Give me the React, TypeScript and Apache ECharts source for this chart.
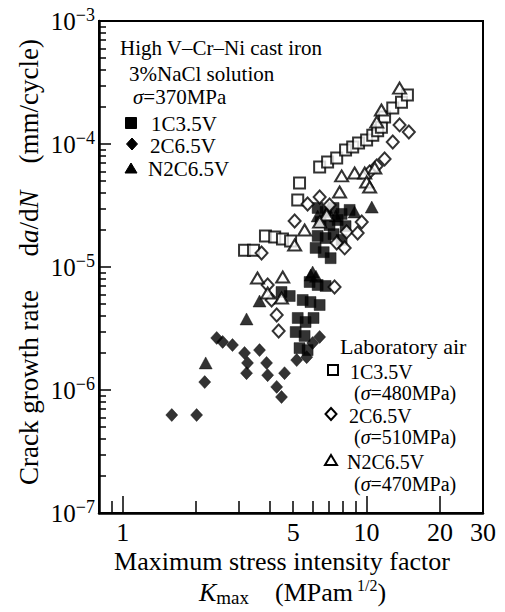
import React, { useEffect, useRef } from "react";
import * as echarts from "echarts";

const FONT = "Liberation Serif, Times New Roman, serif";

// ---- axis ticks / labels ----
const xTickMajor = [1, 10, 20];
const xTickMinor = [0.9, 2, 3, 4, 5, 6, 7, 8, 9];
const xLabels = [1, 5, 10, 20, 29.99];
const yDecades = [1e-7, 1e-6, 1e-5, 1e-4, 1e-3];
const yMinorMultipliers = [2, 3, 4, 5, 6, 7, 8, 9];

// ---- data: [Kmax (MPa m^1/2), da/dN (mm/cycle)] ----
// 3% NaCl solution, sigma = 370 MPa (filled symbols)
const nacl1C35V: [number, number][] = [
  [6.3, 3.02e-5], [6.79, 2.8e-5], [7.32, 3.02e-5], [7.9, 2.7e-5], [8.52, 2.91e-5],
  [6.48, 2.32e-5], [7.05, 2.19e-5], [7.61, 2.41e-5], [8.2, 2.15e-5],
  [6.3, 1.79e-5], [6.79, 1.72e-5], [7.32, 1.85e-5], [7.9, 1.66e-5],
  [6.18, 1.43e-5], [6.67, 1.32e-5], [7.12, 1.18e-5],
  [5.84, 7.55e-6], [6.3, 7.14e-6], [6.79, 7.01e-6],
  [5.47, 5.39e-6], [5.89, 5.19e-6], [6.42, 4.91e-6],
  [5.22, 3.85e-6], [5.62, 3.57e-6], [6.06, 3.85e-6],
  [5.12, 2.96e-6], [5.57, 2.75e-6], [5.31, 2.19e-6], [5.73, 2.11e-6],
  [4.48, 6.26e-6], [4.84, 5.81e-6],
];
const nacl2C65V: [number, number][] = [
  [1.59, 6.26e-7], [2.01, 6.26e-7], [2.17, 1.16e-6], [2.43, 2.65e-6], [2.57, 2.46e-6],
  [2.82, 2.32e-6], [3.16, 2.0e-6], [3.25, 1.66e-6], [3.22, 1.37e-6], [3.64, 2.11e-6],
  [3.89, 1.66e-6], [3.93, 1.32e-6], [4.28, 1.06e-6], [4.48, 8.77e-7], [4.61, 1.37e-6],
  [5.17, 1.75e-6], [5.68, 1.85e-6], [6.01, 2.41e-6], [6.42, 2.7e-6],
];
const naclN2C65V: [number, number][] = [
  [2.19, 1.66e-6], [3.22, 3.78e-6], [3.64, 5.29e-6], [6.01, 9.1e-6], [6.2, 8.4e-6],
  [5.9, 8.6e-6], [6.3, 2.6e-5], [6.92, 2.91e-5], [7.47, 2.6e-5], [8.93, 2.8e-5], [10.5, 3.07e-5],
];
// Laboratory air (open symbols)
const air1C35V: [number, number][] = [
  [3.16, 1.37e-5], [3.44, 1.37e-5], [3.85, 1.79e-5], [4.2, 1.75e-5], [4.52, 1.69e-5],
  [4.88, 1.63e-5], [5.22, 3.51e-5], [5.31, 4.82e-5], [6.42, 6.5e-5], [6.92, 7.14e-5],
  [7.54, 7.69e-5], [8.2, 8.94e-5], [8.77, 9.46e-5], [9.27, 1.02e-4], [10.0, 1.08e-4],
  [10.6, 1.18e-4], [11.1, 1.28e-4], [11.5, 1.37e-4], [11.85, 1.66e-4], [12.8, 1.96e-4],
  [13.9, 2.19e-4], [14.7, 2.5e-4],
];
const air2C65V: [number, number][] = [
  [3.71, 1.3e-5], [3.93, 7.14e-6], [4.08, 5.39e-6], [4.28, 4.07e-6], [4.36, 3.02e-6],
  [5.07, 2.37e-5], [5.73, 3.25e-5], [6.42, 3.71e-5], [7.05, 3.19e-5], [7.39, 6.88e-6],
  [7.54, 1.57e-5], [8.13, 1.43e-5], [8.28, 1.93e-5], [9.19, 1.89e-5], [9.55, 2.32e-5],
  [10.29, 5.92e-5], [11.0, 6.62e-5], [11.85, 7.55e-5], [12.8, 1.04e-4], [13.65, 1.43e-4],
  [14.9, 1.25e-4],
];
const airN2C65V: [number, number][] = [
  [3.57, 8.14e-6], [3.93, 6.15e-6], [4.53, 8.29e-6], [4.48, 5.6e-6], [5.07, 1.51e-5],
  [5.57, 2.0e-5], [6.86, 2.65e-5], [6.42, 2.32e-5], [7.75, 4.07e-5], [7.9, 5.5e-5],
  [8.93, 5.81e-5], [9.82, 5.81e-5], [10.0, 4.91e-5], [10.29, 4.47e-5], [10.8, 6.38e-5],
  [11.0, 1.51e-4], [11.5, 1.89e-4], [13.65, 2.85e-4],
];

const yMinor: number[] = [];
yDecades.slice(0, 4).forEach((d) => yMinorMultipliers.forEach((m) => yMinor.push(m * d)));

const txt = (
  x: number,
  y: number,
  text: string,
  size: number,
  rich?: Record<string, any>,
  extra: Record<string, any> = {}
) => ({
  type: "text",
  x,
  y,
  silent: true,
  ...extra,
  style: {
    text,
    fill: "#000",
    fontSize: size,
    fontFamily: FONT,
    lineHeight: size,
    align: extra.align || "left",
    textAlign: extra.align || "left",
    verticalAlign: "middle",
    textVerticalAlign: "middle",
    rich,
  },
});

const richBase = (size: number) => ({
  n: { fontSize: size, fontFamily: FONT, color: "#000", lineHeight: size },
  i: { fontSize: size, fontFamily: FONT, color: "#000", fontStyle: "italic", lineHeight: size },
});

const filled = { fill: "#000", stroke: "#000", lineWidth: 1 };
const open = { fill: "#fff", stroke: "#000", lineWidth: 2 };
const sq = (cx: number, cy: number, s: number, st: any) => ({
  type: "rect",
  silent: true,
  shape: { x: cx - s / 2, y: cy - s / 2, width: s, height: s },
  style: st,
});
const dia = (cx: number, cy: number, w: number, h: number, st: any) => ({
  type: "polygon",
  silent: true,
  shape: { points: [[cx, cy - h / 2], [cx + w / 2, cy], [cx, cy + h / 2], [cx - w / 2, cy]] },
  style: st,
});
const tri = (cx: number, cy: number, w: number, h: number, st: any) => ({
  type: "polygon",
  silent: true,
  shape: { points: [[cx, cy - h / 2], [cx + w / 2, cy + h / 2], [cx - w / 2, cy + h / 2]] },
  style: st,
});

export default function App() {
  const ref = useRef<HTMLDivElement>(null);
  useEffect(() => {
    const chart = echarts.init(ref.current!, null, { renderer: "svg" });
    const scatter = (name: string, data: [number, number][], symbol: string, size: any, isOpen: boolean) => ({
      name,
      type: "scatter",
      data,
      symbol,
      symbolSize: size,
      itemStyle: isOpen
        ? { color: "#fff", borderColor: "#000", borderWidth: 2 }
        : { color: "#000", borderColor: "#000", borderWidth: 0.5 },
      emphasis: { disabled: true },
    });
    const y10 = { fontSize: 25, fontFamily: FONT, color: "#000", lineHeight: 30 };
    const option: any = {
      animation: false,
      backgroundColor: "#fff",
      textStyle: { fontFamily: FONT },
      grid: {
        left: 99,
        right: 22,
        top: 21,
        bottom: 99,
        show: true,
        borderColor: "#000",
        borderWidth: 2,
        backgroundColor: "transparent",
      },
      xAxis: [
        {
          type: "log",
          logBase: 10,
          min: 0.8,
          max: 30,
          position: "bottom",
          axisLine: { show: true, onZero: false, lineStyle: { color: "#000", width: 2.5 } },
          axisTick: { show: true, inside: true, length: 17, customValues: xTickMajor, lineStyle: { color: "#000", width: 1.5 } },
          axisLabel: {
            show: true,
            customValues: xLabels,
            formatter: (v: number) => String(Math.round(v)),
            fontSize: 26,
            fontFamily: FONT,
            color: "#000",
            margin: 6,
          },
          splitLine: { show: false },
          minorTick: { show: false },
        },
        {
          type: "log",
          logBase: 10,
          min: 0.8,
          max: 30,
          position: "bottom",
          axisLine: { show: false },
          axisTick: { show: true, inside: true, length: 12, customValues: xTickMinor, lineStyle: { color: "#000", width: 1.5 } },
          axisLabel: { show: false },
          splitLine: { show: false },
        },
      ],
      yAxis: [
        {
          type: "log",
          logBase: 10,
          min: 1e-7,
          max: 1e-3,
          position: "left",
          axisLine: { show: true, onZero: false, lineStyle: { color: "#000", width: 2.5 } },
          axisTick: { show: true, inside: true, length: 12, customValues: yDecades, lineStyle: { color: "#000", width: 1.5 } },
          axisLabel: {
            show: true,
            customValues: yDecades,
            margin: 4,
            formatter: (v: number) => {
              const e = Math.round(Math.log10(v));
              return "{b|10}{s|\u2212" + Math.abs(e) + "}";
            },
            rich: {
              b: y10,
              s: { fontSize: 18, fontFamily: FONT, color: "#000", lineHeight: 20, verticalAlign: "top" },
            },
          },
          splitLine: { show: false },
        },
        {
          type: "log",
          logBase: 10,
          min: 1e-7,
          max: 1e-3,
          position: "left",
          axisLine: { show: false },
          axisTick: { show: true, inside: true, length: 7, customValues: yMinor, lineStyle: { color: "#000", width: 1.5 } },
          axisLabel: { show: false },
          splitLine: { show: false },
        },
      ],
      series: [
        scatter("1C3.5V (3%NaCl)", nacl1C35V, "rect", 11, false),
        scatter("2C6.5V (3%NaCl)", nacl2C65V, "diamond", [12, 13], false),
        scatter("N2C6.5V (3%NaCl)", naclN2C65V, "triangle", [13, 12], false),
        scatter("1C3.5V (air)", air1C35V, "rect", 11, true),
        scatter("2C6.5V (air)", air2C65V, "diamond", [12, 13], true),
        scatter("N2C6.5V (air)", airN2C65V, "triangle", [13, 11], true),
      ],
      graphic: [
        // top-left legend block
        txt(120, 48, "High V\u2013Cr\u2013Ni cast iron", 21),
        txt(129, 74, "3%NaCl solution", 21),
        txt(133, 97, "{i|\u03c3}{n|=370MPa}", 21, richBase(21)),
        sq(131, 123, 11, filled),
        txt(151, 124, "1C3.5V", 21),
        dia(132, 144, 11, 12, filled),
        txt(150, 146, "2C6.5V", 21),
        tri(131, 168, 12, 10, filled),
        txt(148, 169, "N2C6.5V", 21),
        // bottom-right legend block
        txt(340, 346, "Laboratory air", 22),
        sq(333, 370, 10, open),
        txt(350, 372, "1C3.5V", 20),
        txt(354, 393, "({i|\u03c3}{n|=480MPa)}", 20, richBase(20)),
        dia(331, 414, 11, 12, open),
        txt(349, 416, "2C6.5V", 20),
        txt(354, 437, "({i|\u03c3}{n|=510MPa)}", 20, richBase(20)),
        tri(331, 460, 12, 10, open),
        txt(347, 462, "N2C6.5V", 20),
        txt(354, 484, "({i|\u03c3}{n|=470MPa)}", 20, richBase(20)),
        // x-axis title
        txt(282, 561, "Maximum stress intensity factor", 26, undefined, { align: "center" }),
        txt(
          199,
          592,
          "{k|K}{sub|max}{n|    (MPam}{sup| 1/2}{n|)}",
          26,
          {
            k: { fontSize: 26, fontFamily: FONT, color: "#000", fontStyle: "italic", lineHeight: 30 },
            n: { fontSize: 26, fontFamily: FONT, color: "#000", lineHeight: 30 },
            sub: { fontSize: 19, fontFamily: FONT, color: "#000", lineHeight: 12, verticalAlign: "bottom" },
            sup: { fontSize: 16, fontFamily: FONT, color: "#000", lineHeight: 10, verticalAlign: "top" },
          }
        ),
        // y-axis title (rotated)
        txt(
          29,
          262,
          "{n|Crack growth rate     d}{i|a}{n|/d}{i|N}{n|    (mm/cycle)}",
          27,
          richBase(27),
          { align: "center", rotation: Math.PI / 2 }
        ),
      ],
    };
    chart.setOption(option);
    return () => chart.dispose();
  }, []);
  return (
    <div
      ref={ref}
      style={{ position: "fixed", left: 0, top: 0, width: 505, height: 612, background: "#fff" }}
    />
  );
}
